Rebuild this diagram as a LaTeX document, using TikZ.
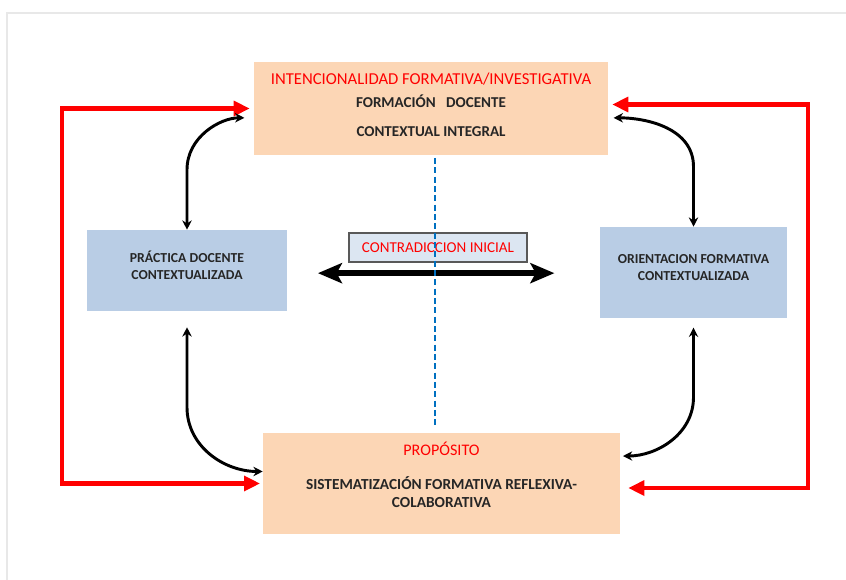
\documentclass[tikz,border=0pt]{standalone}
\usepackage{fontspec}
\setmainfont{Carlito}
\usepackage{xcolor}
\usetikzlibrary{arrows.meta,positioning,calc}
\definecolor{peach}{RGB}{252,214,181}
\definecolor{paleblue}{RGB}{185,205,229}
\definecolor{labelfill}{RGB}{220,230,242}
\definecolor{dashblue}{RGB}{0,112,192}

\begin{document}
\begin{tikzpicture}[x=0.75pt,y=-0.75pt,>={Stealth[length=7pt,width=7pt]},
  peachbox/.style={fill=peach,inner sep=0pt},
  bluebox/.style={fill=paleblue,inner sep=0pt},
  boxtxt/.style={font=\bfseries\fontsize{11.3}{12.75}\selectfont,align=center,text=black!85},
  sidetxt/.style={boxtxt,font=\bfseries\fontsize{10.3}{12.75}\selectfont},
  redtxt/.style={font=\fontsize{12.5}{14}\selectfont,text=red},
  curvy/.style={<->,line width=2.2pt},
  redline/.style={{Triangle[length=12pt,width=11pt]}-{Triangle[length=12pt,width=11pt]},
    line width=3.6pt,red},
  bigarrow/.style={{Stealth[length=18pt,width=15pt,inset=4pt]}-{Stealth[length=18pt,width=15pt,inset=4pt]},
    line width=4pt}]
\useasboundingbox (0,0) rectangle (846,580);
\draw[black!9,line width=2pt] (7,580) -- (7,13) -- (846,13);

\node[peachbox,minimum width=265.5pt,minimum height=69.75pt] (top) at (431,108.5) {};
\node[bluebox,minimum width=150pt,minimum height=60.75pt] (lft) at (187,270.5) {};
\node[bluebox,minimum width=140.25pt,minimum height=68.25pt] (rgt) at (693.5,272.5) {};
\node[peachbox,minimum width=267.75pt,minimum height=75.75pt] (bot) at (441.5,483.5) {};

\node[redtxt] (topA) at (431,79) {INTENCIONALIDAD FORMATIVA/INVESTIGATIVA};
\node[boxtxt] (topB) at (431,101) {FORMACIÓN\hspace{0.7em}DOCENTE};
\node[boxtxt] (topC) at (431,132) {CONTEXTUAL INTEGRAL};
\node[sidetxt] (lftT) at (187,265.5) {PRÁCTICA DOCENTE\\CONTEXTUALIZADA};
\node[sidetxt] (rgtT) at (693.5,267.5) {ORIENTACION FORMATIVA\\CONTEXTUALIZADA};
\node[redtxt,font=\fontsize{12.1}{14}\selectfont] (botA) at (441.5,449) {PROPÓSITO};
\node[boxtxt,font=\bfseries\fontsize{11.5}{13.5}\selectfont] (botB) at (441.5,492) {SISTEMATIZACIÓN FORMATIVA REFLEXIVA-\\COLABORATIVA};

\node[draw=black!65,fill=labelfill,line width=0.8pt,minimum width=133.5pt,minimum height=21.75pt,
  inner sep=0pt,text=red,font=\fontsize{11.3}{13}\selectfont] (lbl) at (438,247.5) {CONTRADICCION INICIAL};

\coordinate (lc) at (62,300);
\coordinate (rc) at (808,300);
\draw[redline,shorten <=3pt,shorten >=2pt] (top.west) -| (lc) |- (bot.west);
\draw[redline,shorten <=3pt,shorten >=6pt] ([yshift=3pt]top.east) -| (rc) |- ([yshift=-3.4pt]bot.east);

\draw[curvy,shorten >=7pt] (lft.north) -- ++(0,-60) to[out=90,in=180] ([yshift=-7pt]top.west);
\draw[curvy,shorten >=4pt] (rgt.north) -- ++(0,-60) to[out=90,in=0] ([yshift=-7pt]top.east);
\draw[curvy,shorten <=12pt] (lft.south) -- ++(0,96) to[out=-90,in=180] ([yshift=9pt]bot.west);
\draw[curvy,shorten <=7pt,shorten >=2pt] (rgt.south) -- ++(0,79) to[out=-90,in=0] ([yshift=20.6pt]bot.east);

\draw[bigarrow,shorten <=23pt,shorten >=34pt] ([yshift=-2pt]lft.east) -- ([yshift=-2pt]lft.east -| rgt.west);

\draw[dashblue,line width=1.6pt,dash pattern=on 4.5pt off 2.5pt,shorten <=2pt,shorten >=4pt]
  ([xshift=3pt]top.south) -- ([xshift=3pt]top.south |- bot.north);
\end{tikzpicture}
\end{document}
